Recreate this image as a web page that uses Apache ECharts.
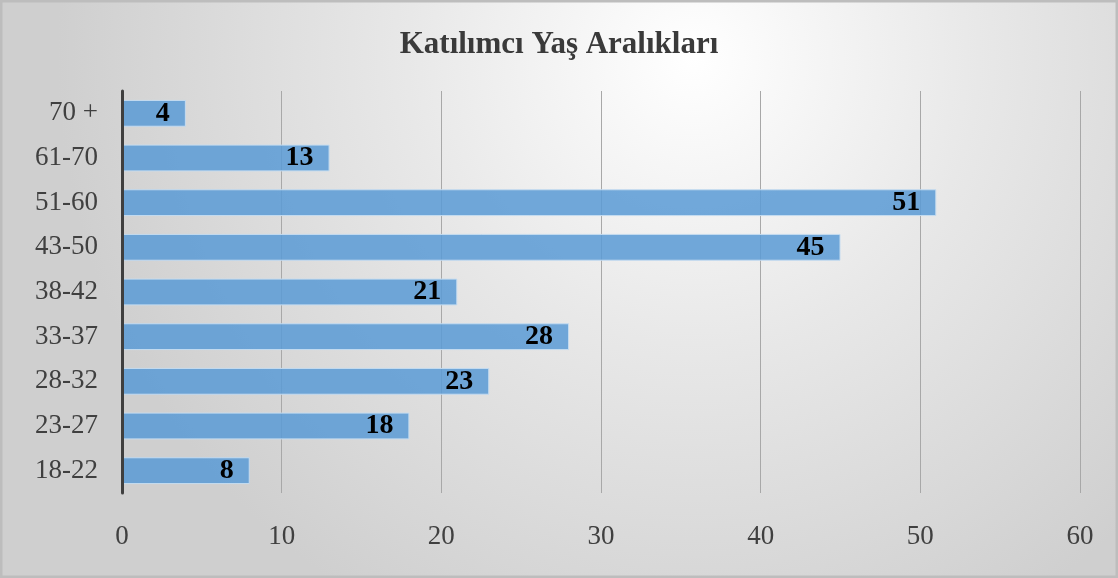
<!DOCTYPE html>
<html>
<head>
<meta charset="utf-8">
<script src="https://cdn.jsdelivr.net/npm/echarts@6/dist/echarts.min.js"></script>
<style>
  html, body { margin: 0; padding: 0; }
  #main { width: 1118px; height: 578px; }
</style>
</head>
<body>
<div id="main"></div>
<script>
// yas araliklari, alttan uste
var categories = ['18-22', '23-27', '28-32', '33-37', '38-42', '43-50', '51-60', '61-70', '70 +'];
var values = [8, 18, 23, 28, 21, 45, 51, 13, 4];
var xTicks = [0, 10, 20, 30, 40, 50, 60];

var myChart = echarts.init(document.getElementById('main'));

var option = {
	backgroundColor: new echarts.graphic.RadialGradient(0.62, 0.1, 1.1, [
		{ offset: 0, color: '#ffffff' },
		{ offset: 0.45, color: '#e8e8e8' },
		{ offset: 1, color: '#cfcfcf' }
	]),
	title: {
		text: 'Katılımcı Yaş Aralıkları',
		left: 'center',
		top: 24,
		textStyle: {
			fontFamily: 'Liberation Serif',
			fontWeight: 'bold',
			fontSize: 31,
			color: '#3a3a3a'
		}
	},
	graphic: [{
		type: 'rect',
		shape: { x: 1, y: 1, width: 1116, height: 576 },
		style: { fill: 'none', stroke: '#bdbdbd', lineWidth: 3 },
		silent: true
	}],
	grid: { left: 122, right: 38, top: 91, bottom: 85 },
	xAxis: {
		type: 'value',
		min: xTicks[0],
		max: xTicks[xTicks.length - 1],
		interval: 10,
		axisLine: { show: false },
		axisTick: { show: false },
		axisLabel: {
			margin: 30,
			fontFamily: 'Liberation Serif',
			fontSize: 27,
			color: '#404040'
		},
		splitLine: { lineStyle: { color: '#a8a8a8', width: 1 } }
	},
	yAxis: {
		type: 'category',
		data: categories,
		z: 5,
		axisLine: { lineStyle: { color: '#3f3f3f', width: 3 } },
		axisTick: { show: false },
		axisLabel: {
			margin: 24,
			fontFamily: 'Liberation Serif',
			fontSize: 27,
			color: '#404040'
		}
	},
	series: [{
		type: 'bar',
		data: values,
		barCategoryGap: '40%',
		itemStyle: {
			color: 'rgba(91,155,213,0.86)',
			borderColor: '#c5dcf0',
			borderWidth: 1
		},
		label: {
			show: true,
			position: 'insideRight',
			distance: 16,
			fontFamily: 'Liberation Serif',
			fontWeight: 'bold',
			fontSize: 28,
			color: '#000'
		}
	}]
};

myChart.setOption(option);
</script>
</body>
</html>
